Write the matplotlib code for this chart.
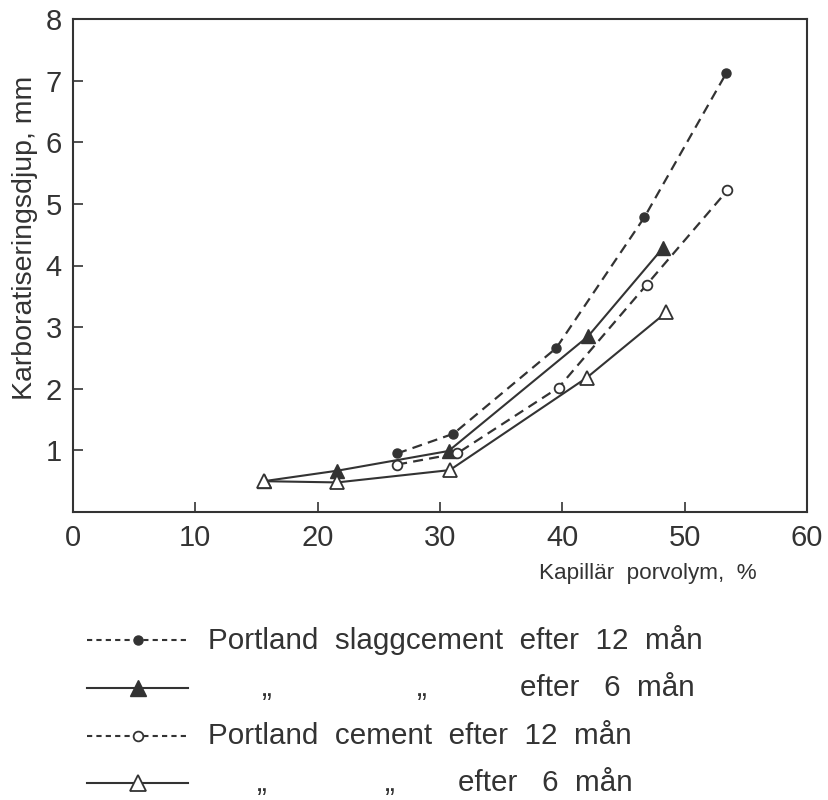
import matplotlib
matplotlib.use("Agg")
import matplotlib.pyplot as plt
from matplotlib.lines import Line2D

plt.rcParams['font.family'] = ['Liberation Sans', 'DejaVu Sans']

# Portland slaggcement, 12 months (filled circles, dashed)
slag12_x = [26.5, 31.1, 39.5, 46.7, 53.4]
slag12_y = [0.95, 1.27, 2.66, 4.78, 7.12]
# Portland slaggcement, 6 months (filled triangles, solid)
slag6_x = [15.6, 21.6, 30.7, 42.1, 48.2]
slag6_y = [0.50, 0.67, 0.99, 2.85, 4.28]
# Portland cement, 12 months (open circles, dashed)
pc12_x = [26.5, 31.4, 39.7, 46.9, 53.5]
pc12_y = [0.77, 0.95, 2.02, 3.69, 5.22]
# Portland cement, 6 months (open triangles, solid)
pc6_x = [15.6, 21.6, 30.8, 42.0, 48.5]
pc6_y = [0.50, 0.48, 0.68, 2.18, 3.24]

xticks = [0, 10, 20, 30, 40, 50, 60]
yticks = [1, 2, 3, 4, 5, 6, 7, 8]

W, H = 829, 800
fig = plt.figure(figsize=(W / 100, H / 100), dpi=100)
ax = fig.add_axes([73 / W, 1 - 512 / H, (807 - 73) / W, (512 - 19) / H])

c = '#333333'
dash = (0, (4.5, 2.8))
ax.plot(slag12_x, slag12_y, linestyle=dash, color=c, lw=1.6,
        marker='o', ms=6.5, mfc=c, mec=c)
ax.plot(slag6_x, slag6_y, '-', color=c, lw=1.5,
        marker='^', ms=10, mfc=c, mec=c)
ax.plot(pc12_x, pc12_y, linestyle=dash, color=c, lw=1.6,
        marker='o', ms=7, mfc='white', mec=c, mew=1.3)
ax.plot(pc6_x, pc6_y, '-', color=c, lw=1.5,
        marker='^', ms=10.5, mfc='white', mec=c, mew=1.3)

ax.set_xlim(0, 60)
ax.set_ylim(0, 8)
ax.set_xticks(xticks)
ax.set_yticks(yticks)
ax.tick_params(direction='in', length=7, width=1.2, colors=c,
               labelsize=21, pad=9)
ax.tick_params(axis='y', pad=8)
for s in ax.spines.values():
    s.set_linewidth(1.5)
    s.set_color(c)

fig.text(25 / W, 1 - 238 / H, 'Karboratiseringsdjup, mm', rotation=90,
         ha='center', va='center', fontsize=20.5, color=c)
fig.text(757 / W, 1 - 573 / H, 'Kapillär  porvolym,  %', ha='right',
         va='center', fontsize=16.2, color=c)

# legend drawn by hand, as in the original figure
rows = [640, 688, 736, 783]
styles = [
    dict(linestyle=(0, (2.5, 2)), marker='o', ms=6.5, mfc=c, mec=c),
    dict(linestyle='-', marker='^', ms=11, mfc=c, mec=c),
    dict(linestyle=(0, (2.5, 2)), marker='o', ms=7, mfc='white', mec=c, mew=1.3),
    dict(linestyle='-', marker='^', ms=12, mfc='white', mec=c, mew=1.3),
]
for py, st in zip(rows, styles):
    yf = 1 - py / H
    ln = Line2D([87 / W, 138 / W, 188 / W], [yf, yf, yf], color=c, lw=1.5,
                markevery=[1], transform=fig.transFigure, **st)
    fig.add_artist(ln)

fs = 21.3
fig.text(208 / W, 1 - rows[0] / H, 'Portland  slaggcement  efter  12  mån',
         va='center', fontsize=fs, color=c)
fig.text(267 / W, 1 - rows[1] / H, '„', va='center', ha='center', fontsize=fs, color=c)
fig.text(422 / W, 1 - rows[1] / H, '„', va='center', ha='center', fontsize=fs, color=c)
fig.text(520 / W, 1 - rows[1] / H, 'efter   6  mån', va='center', fontsize=fs, color=c)
fig.text(208 / W, 1 - rows[2] / H, 'Portland  cement  efter  12  mån',
         va='center', fontsize=fs, color=c)
fig.text(262 / W, 1 - rows[3] / H, '„', va='center', ha='center', fontsize=fs, color=c)
fig.text(390 / W, 1 - rows[3] / H, '„', va='center', ha='center', fontsize=fs, color=c)
fig.text(458 / W, 1 - rows[3] / H, 'efter   6  mån', va='center', fontsize=fs, color=c)

fig.savefig('out.png', dpi=100)
